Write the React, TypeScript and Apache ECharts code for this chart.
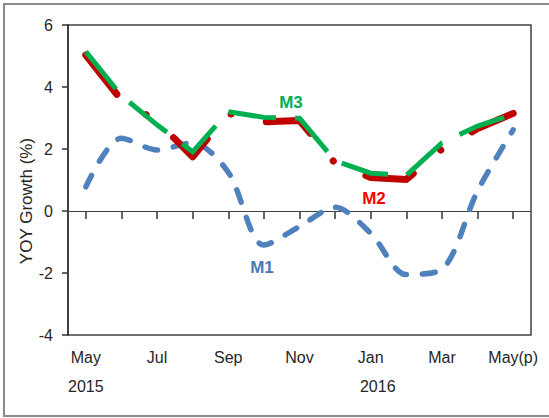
import React, { useEffect, useRef } from "react";
import * as echarts from "echarts";

const categories = ["May", "Jun", "Jul", "Aug", "Sep", "Oct", "Nov", "Dec", "Jan", "Feb", "Mar", "Apr", "May(p)"];
const yearLabels: Record<number, string> = { 0: "2015", 8: "2016" };
const m1 = [0.78, 2.35, 1.97, 2.2, 1.25, -1.1, -0.5, 0.12, -0.72, -2.05, -1.88, 0.65, 2.62];
const m2 = [5.03, 3.58, 2.9, 1.75, 3.15, 2.88, 2.92, 1.54, 1.08, 1.02, 2.0, 2.66, 3.15];
const m3 = [5.14, 3.72, 2.78, 1.91, 3.2, 3.02, 2.99, 1.62, 1.22, 1.15, 2.2, 2.74, 3.12];
const yTicks = { min: -4, max: 6, interval: 2 };

const FONT = "'Liberation Sans', Arial, sans-serif";

export default function App() {
  const ref = useRef<HTMLDivElement>(null);
  useEffect(() => {
    if (!ref.current) return;
    const chart = echarts.init(ref.current, undefined, { renderer: "svg" });
    chart.setOption({
      animation: false,
      backgroundColor: "#ffffff",
      grid: {
        left: 68,
        right: 18,
        top: 25,
        bottom: 83,
        show: true,
        borderColor: "#404040",
        borderWidth: 1.5,
      },
      xAxis: {
        type: "category",
        data: categories,
        boundaryGap: true,
        offset: -3,
        axisLine: { show: false },
        axisTick: {
          show: true,
          alignWithLabel: true,
          interval: 0,
          length: 8,
          lineStyle: { color: "#333", width: 1.5 },
        },
        axisLabel: {
          interval: 1,
          margin: 15,
          color: "#262626",
          fontFamily: FONT,
          fontSize: 16,
          formatter: (value: string, index: number) => {
            const y = yearLabels[index];
            if (!y) return `{m|${value}}`;
            return index === 0 ? `{m|${value}}\n{y|${y}}` : `{m|${value}}\n{y2|${y}}`;
          },
          rich: {
            m: { fontFamily: FONT, fontSize: 16, color: "#262626", lineHeight: 20 },
            y: { fontFamily: FONT, fontSize: 16, color: "#262626", lineHeight: 38 },
            y2: { fontFamily: FONT, fontSize: 16, color: "#262626", lineHeight: 38, padding: [0, 0, 0, 14] },
          },
        },
        splitLine: { show: false },
      },
      yAxis: {
        type: "value",
        min: yTicks.min,
        max: yTicks.max,
        interval: yTicks.interval,
        axisLine: { show: true, lineStyle: { color: "#333", width: 1.5 } },
        axisTick: { show: true, length: 6, lineStyle: { color: "#333", width: 1.5 } },
        axisLabel: { margin: 15, color: "#262626", fontFamily: FONT, fontSize: 16 },
        splitLine: { show: false },
      },
      graphic: [
        {
          type: "rect",
          shape: { x: 4, y: 4, width: 600, height: 412 },
          style: { fill: "none", stroke: "#8a8a8a", lineWidth: 2 },
          silent: true,
        },
        {
          type: "text",
          x: 26,
          y: 201,
          rotation: Math.PI / 2,
          style: {
            text: "YOY Growth (%)",
            fontFamily: FONT,
            fontSize: 17,
            fill: "#262626",
            align: "center",
            verticalAlign: "middle",
          },
        },
        {
          type: "text",
          x: 291,
          y: 102,
          style: { text: "M3", fontFamily: FONT, fontSize: 17, fontWeight: "bold", fill: "#00b050", align: "center", verticalAlign: "middle" },
        },
        {
          type: "text",
          x: 374,
          y: 198,
          style: { text: "M2", fontFamily: FONT, fontSize: 17, fontWeight: "bold", fill: "#ff0000", align: "center", verticalAlign: "middle" },
        },
        {
          type: "text",
          x: 262,
          y: 267,
          style: { text: "M1", fontFamily: FONT, fontSize: 17, fontWeight: "bold", fill: "#4a78b4", align: "center", verticalAlign: "middle" },
        },
      ],
      series: [
        {
          name: "M1",
          type: "line",
          data: m1,
          smooth: 0.3,
          symbol: "none",
          lineStyle: { color: "#4f81bd", width: 5.5, type: [13, 16], cap: "round", join: "round" },
          markLine: {
            silent: true,
            symbol: ["none", "none"],
            label: { show: false },
            lineStyle: { color: "#404040", width: 1.2, type: "solid" },
            data: [{ yAxis: 0 }],
            z: 1,
          },
        },
        {
          name: "M2",
          type: "line",
          data: m2,
          symbol: "none",
          lineStyle: { color: "#c00000", width: 7, type: [50, 36, 0.1, 36], cap: "round", join: "round" },
        },
        {
          name: "M3",
          type: "line",
          data: m3,
          symbol: "none",
          lineStyle: { color: "#00b050", width: 5, type: [48, 19], cap: "butt", join: "miter" },
        },
      ],
    });
    return () => chart.dispose();
  }, []);
  return <div ref={ref} style={{ position: "absolute", left: 0, top: 0, width: 549, height: 418 }} />;
}
